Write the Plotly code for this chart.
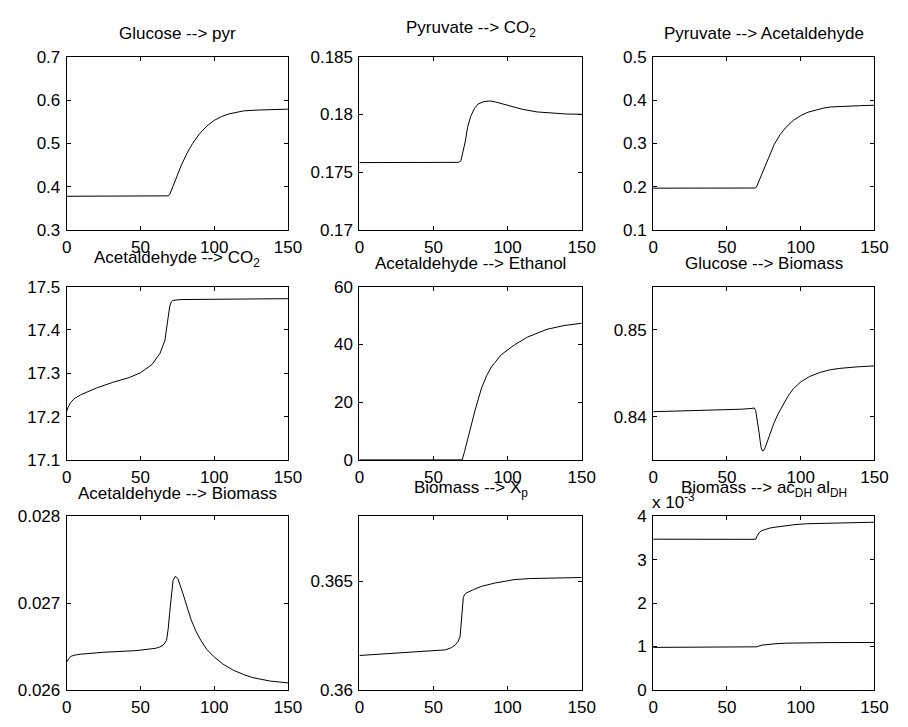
import plotly.graph_objects as go
from plotly.subplots import make_subplots

W, H = 908, 727

# ---------------- data ----------------
titles = [
    "Glucose --> pyr",
    "Pyruvate --> CO<sub>2</sub>",
    "Pyruvate --> Acetaldehyde",
    "Acetaldehyde --> CO<sub>2</sub>",
    "Acetaldehyde --> Ethanol",
    "Glucose --> Biomass",
    "Acetaldehyde --> Biomass",
    "Biomass --> X<sub>p</sub>",
    "Biomass --> ac<sub>DH</sub> al<sub>DH</sub>",
]
has_sub = [False, True, False, True, False, False, False, True, True]

t_glc_pyr = [0, 20, 40, 60, 67, 69, 70, 72, 75, 78, 82, 85.4, 90, 95, 100, 105, 110, 115, 120, 130, 140, 150]
v_glc_pyr = [0.378, 0.378, 0.378, 0.378, 0.3782, 0.379, 0.383, 0.40, 0.425, 0.452, 0.480, 0.50, 0.522, 0.540,
             0.553, 0.562, 0.568, 0.572, 0.575, 0.577, 0.578, 0.579]

t_pyr_co2 = [0, 30, 60, 67, 68.5, 70, 71.5, 73, 75, 77.5, 80, 84, 88, 92, 100, 110, 120, 130, 140, 150]
v_pyr_co2 = [0.17584, 0.17584, 0.17585, 0.17586, 0.1760, 0.1768, 0.1777, 0.1789, 0.1798, 0.1805, 0.1809,
             0.18112, 0.18117, 0.18108, 0.18078, 0.18045, 0.18022, 0.18010, 0.18004, 0.18002]

t_pyr_acald = [0, 20, 40, 60, 67, 69, 70, 72, 75, 78, 82, 86, 90, 95, 100, 105, 110, 115, 120, 130, 140, 150]
v_pyr_acald = [0.1966, 0.1966, 0.1966, 0.1966, 0.1966, 0.197, 0.199, 0.215, 0.24, 0.265, 0.297, 0.32, 0.337,
               0.353, 0.364, 0.372, 0.377, 0.381, 0.384, 0.386, 0.387, 0.388]

t_acald_co2 = [0, 1, 2.6, 5, 9.3, 15, 20.3, 31.3, 42.4, 50, 57.8, 63.3, 66.6, 68.8, 69.9, 71, 72.1, 77.6, 100, 150]
v_acald_co2 = [17.212, 17.222, 17.232, 17.241, 17.250, 17.259, 17.266, 17.279, 17.290, 17.301, 17.320, 17.346,
               17.376, 17.429, 17.455, 17.465, 17.468, 17.470, 17.471, 17.472]

t_acald_eth = [0, 69.3, 71, 73.7, 78.1, 82.5, 86, 89.1, 95.7, 104.6, 113.4, 126.6, 138, 150]
v_acald_eth = [0, 0, 3, 8.8, 17.3, 25.0, 29.3, 32.2, 36.4, 39.8, 42.5, 45.2, 46.5, 47.3]

t_glc_bio = [0, 30, 60, 67, 68.5, 69.5, 70.3, 71.1, 71.9, 72.6, 73.2, 74.1, 75, 75.9, 77.5, 79.2, 82, 84.7,
             88, 91.3, 95, 100.1, 106, 113.4, 120, 126.6, 138, 150]
v_glc_bio = [0.84056, 0.84068, 0.84085, 0.84094, 0.84100, 0.84070, 0.83993, 0.83900, 0.83807, 0.83710,
             0.83640, 0.83604, 0.83610, 0.83640, 0.83720, 0.83807, 0.83930, 0.84030, 0.84140, 0.84233,
             0.84320, 0.84400, 0.84462, 0.84511, 0.84540, 0.84556, 0.84573, 0.84585]

t_acald_bio = [0, 0.5, 1.5, 2.6, 5, 9.3, 24.7, 46.8, 60, 63, 65.5, 67.7, 68.8, 69.7, 70.6, 71.4, 72.1, 73.7,
               75.4, 78.8, 81.5, 84.3, 87.5, 90.9, 95, 99.7, 106, 112.9, 120, 126.2, 138, 150]
v_acald_bio = [0.02632, 0.02634, 0.02636, 0.026383, 0.026398, 0.02641, 0.026432, 0.026451, 0.026477,
               0.026492, 0.026515, 0.02657, 0.0267, 0.02687, 0.02704, 0.02718, 0.02726, 0.02731, 0.02728,
               0.02711, 0.02696, 0.02681, 0.02668, 0.02657, 0.026465, 0.026383, 0.026295, 0.026226,
               0.026175, 0.026139, 0.0261, 0.026079]

t_bio_xp = [0, 24.8, 46.9, 58, 62, 64.6, 66.5, 67.9, 68.5, 69, 69.6, 70.1, 71, 72.3, 77, 82.3, 91.2, 104.4,
            115, 126.5, 150]
v_bio_xp = [0.36158, 0.36169, 0.36176, 0.36184, 0.36194, 0.36206, 0.36222, 0.36244, 0.36290, 0.36342,
            0.36395, 0.36425, 0.36440, 0.36447, 0.36462, 0.36477, 0.36492, 0.36508, 0.36513, 0.36515, 0.36518]

t_bio_acdh = [0, 60, 68, 69.5, 70.5, 71.7, 73.5, 76.1, 79, 82.7, 88, 96, 104, 113.7, 130, 150]
v_bio_acdh = [3.474e-3, 3.468e-3, 3.462e-3, 3.47e-3, 3.55e-3, 3.62e-3, 3.67e-3, 3.70e-3, 3.73e-3, 3.75e-3,
              3.78e-3, 3.81e-3, 3.83e-3, 3.84e-3, 3.855e-3, 3.865e-3]
t_bio_aldh = [0, 60, 68.4, 70, 73.9, 78, 82.7, 90, 100.4, 120, 150]
v_bio_aldh = [0.977e-3, 0.977e-3, 0.977e-3, 0.99e-3, 1.03e-3, 1.05e-3, 1.06e-3, 1.074e-3, 1.083e-3,
              1.088e-3, 1.09e-3]

x_ticks = [0, 50, 100, 150]
y_ranges = [[0.3, 0.7], [0.17, 0.185], [0.1, 0.5], [17.1, 17.5], [0, 60], [0.835, 0.855],
            [0.026, 0.028], [0.36, 0.368], [0, 4]]
y_tickvals = [[0.3, 0.4, 0.5, 0.6, 0.7], [0.17, 0.175, 0.18, 0.185], [0.1, 0.2, 0.3, 0.4, 0.5],
              [17.1, 17.2, 17.3, 17.4, 17.5], [0, 20, 40, 60], [0.84, 0.85], [0.026, 0.027, 0.028],
              [0.36, 0.365], [0, 1, 2, 3, 4]]
y_ticktext = [["0.3", "0.4", "0.5", "0.6", "0.7"], ["0.17", "0.175", "0.18", "0.185"],
              ["0.1", "0.2", "0.3", "0.4", "0.5"], ["17.1", "17.2", "17.3", "17.4", "17.5"],
              ["0", "20", "40", "60"], ["0.84", "0.85"], ["0.026", "0.027", "0.028"],
              ["0.36", "0.365"], ["0", "1", "2", "3", "4"]]
exp_scale = 1e3  # last panel shown in units of 10^-3

# ---------------- figure ----------------
FONT = "Liberation Sans, Arial, Helvetica, sans-serif"
FS = 17
cols_px = [(63, 289), (362, 589), (662, 888)]
rows_px = [(49, 227), (285, 463), (521, 699)]

fig = make_subplots(rows=3, cols=3)

series = [
    [(t_glc_pyr, v_glc_pyr)],
    [(t_pyr_co2, v_pyr_co2)],
    [(t_pyr_acald, v_pyr_acald)],
    [(t_acald_co2, v_acald_co2)],
    [(t_acald_eth, v_acald_eth)],
    [(t_glc_bio, v_glc_bio)],
    [(t_acald_bio, v_acald_bio)],
    [(t_bio_xp, v_bio_xp)],
    [(t_bio_acdh, [v * exp_scale for v in v_bio_acdh]), (t_bio_aldh, [v * exp_scale for v in v_bio_aldh])],
]

for i, sers in enumerate(series):
    r, c = i // 3 + 1, i % 3 + 1
    for tt, vv in sers:
        fig.add_trace(go.Scatter(x=tt, y=vv, mode="lines", line=dict(color="black", width=1),
                                 showlegend=False, hoverinfo="skip"), row=r, col=c)

annotations = []
for i in range(9):
    r, c = i // 3, i % 3
    x0, x1 = cols_px[c]
    y0, y1 = rows_px[r]
    sfx = "" if i == 0 else str(i + 1)
    fig.layout["xaxis" + sfx].update(
        domain=[x0 / W, x1 / W], range=[0, 150], tickvals=x_ticks,
        ticks="inside", ticklen=4, tickcolor="black", mirror="ticks", showline=True,
        linecolor="black", linewidth=1, showgrid=False, zeroline=False,
        tickfont=dict(family=FONT, size=FS, color="black"), ticklabelstandoff=2)
    fig.layout["yaxis" + sfx].update(
        domain=[1 - y1 / H, 1 - y0 / H], range=y_ranges[i], tickvals=y_tickvals[i],
        ticktext=y_ticktext[i],
        ticks="inside", ticklen=4, tickcolor="black", mirror="ticks", showline=True,
        linecolor="black", linewidth=1, showgrid=False, zeroline=False,
        tickfont=dict(family=FONT, size=FS, color="black"), ticklabelstandoff=2)
    lift = 12 + (3 if has_sub[i] else 0)
    annotations.append(dict(
        text=titles[i], xref="paper", yref="paper", x=(x0 + x1) / 2 / W,
        y=1 - (y0 - lift) / H, xanchor="center", yanchor="bottom", showarrow=False,
        font=dict(family=FONT, size=FS, color="black")))

annotations.append(dict(
    text="x 10<sup>-3</sup>", xref="paper", yref="paper", x=659 / W, y=1 - 505 / H,
    xanchor="left", yanchor="middle", showarrow=False,
    font=dict(family=FONT, size=FS, color="black")))

fig.update_layout(
    width=W, height=H, margin=dict(l=0, r=0, t=0, b=0),
    paper_bgcolor="white", plot_bgcolor="white",
    annotations=annotations, showlegend=False)

fig.write_html("out.html")
